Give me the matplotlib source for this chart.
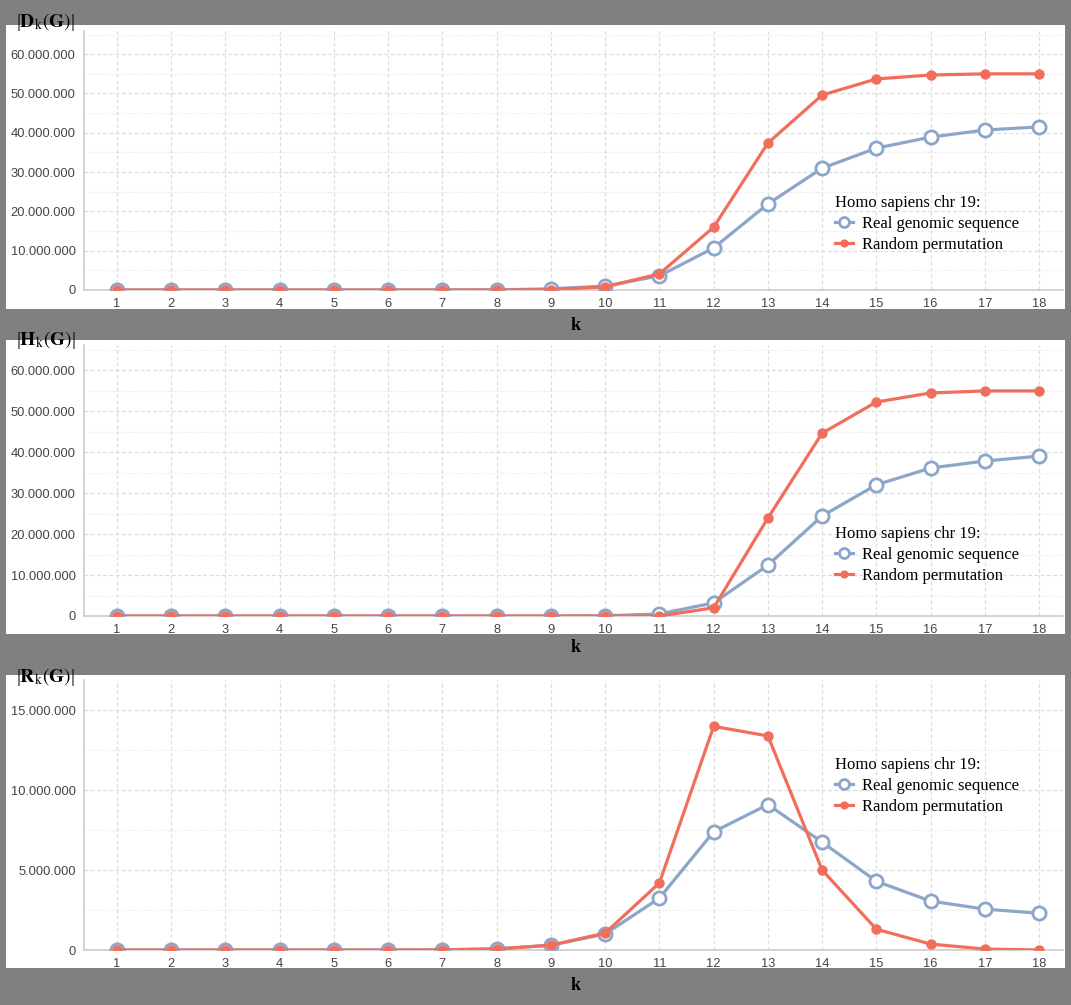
import numpy as np
import matplotlib.pyplot as plt
from matplotlib.patches import Rectangle
from matplotlib.ticker import FuncFormatter, MultipleLocator

# values (millions)
k = list(range(1, 19))

d_real = [0, 0, 0, 0, 0, 0, 0, 0.02, 0.3, 1.0, 3.6, 10.7, 21.9, 31.0, 36.1, 38.9, 40.7, 41.5]
d_rand = [0, 0, 0, 0, 0, 0, 0, 0.01, 0.1, 0.8, 4.1, 16.0, 37.4, 49.6, 53.7, 54.7, 55.0, 55.0]

h_real = [0, 0, 0, 0, 0, 0, 0, 0, 0, 0.05, 0.5, 3.2, 12.4, 24.4, 32.0, 36.1, 37.8, 39.0]
h_rand = [0, 0, 0, 0, 0, 0, 0, 0, 0, 0, 0, 2.0, 23.9, 44.6, 52.2, 54.4, 54.9, 54.9]

r_real = [0, 0, 0, 0, 0, 0, 0.01, 0.08, 0.3, 1.0, 3.25, 7.4, 9.1, 6.75, 4.3, 3.06, 2.56, 2.3]
r_rand = [0, 0, 0, 0, 0, 0, 0.01, 0.06, 0.3, 1.06, 4.2, 14.0, 13.4, 5.0, 1.3, 0.37, 0.06, 0.0]

panels = [
    ('D', d_real, d_rand, 10, 5, 65.9),
    ('H', h_real, h_rand, 10, 5, 66.1),
    ('R', r_real, r_rand, 5, 2.5, 16.9),
]

# pixel layout (top, bottom-of-axes, panel top, panel bottom, legend y, title y, k label y)
layout = [
    dict(ax_top=31, ax_bot=290, p_top=25, p_bot=309, leg_y=195, title_y=22, xl_y=325),
    dict(ax_top=345, ax_bot=616, p_top=340, p_bot=634, leg_y=526, title_y=340, xl_y=648),
    dict(ax_top=680, ax_bot=950, p_top=675, p_bot=968, leg_y=757, title_y=677, xl_y=985),
]

W, H = 1071, 1005
blue = '#8ba6c9'
red = '#f06e5b'

plt.rcParams['font.family'] = ['Liberation Sans', 'DejaVu Sans']
plt.rcParams['mathtext.fontset'] = 'stix'

fig = plt.figure(figsize=(W / 100, H / 100), dpi=100, facecolor='#808080')

def fmt(v, pos):
    n = int(round(v * 1e6))
    return f'{n:,}'.replace(',', '.')

for (letter, real, rand, major, minor, ymax), lay in zip(panels, layout):
    # white panel behind each chart
    fig.patches.append(Rectangle((6 / W, 1 - lay['p_bot'] / H), 1059 / W,
                                 (lay['p_bot'] - lay['p_top']) / H,
                                 transform=fig.transFigure, facecolor='white',
                                 edgecolor='none', zorder=-5))
    left, right = 84, 1063
    ax = fig.add_axes([left / W, 1 - lay['ax_bot'] / H, (right - left) / W,
                       (lay['ax_bot'] - lay['ax_top']) / H])
    ax.set_facecolor('white')
    ax.set_xlim(0.392, 18.44)
    ax.set_ylim(0, ymax)

    ax.plot(k, real, color=blue, lw=2.3, marker='o', ms=9.5, mfc='white',
            mec=blue, mew=2, label='Real genomic sequence', zorder=3)
    ax.plot(k, rand, color=red, lw=2.3, marker='o', ms=6.5, mfc=red,
            mec=red, label='Random permutation', zorder=4)

    ax.set_xticks(k)
    ax.yaxis.set_major_locator(MultipleLocator(major))
    ax.yaxis.set_minor_locator(MultipleLocator(minor))
    ax.yaxis.set_major_formatter(FuncFormatter(fmt))
    ax.tick_params(axis='both', length=0, labelsize=9.3, colors='#444444', pad=6)
    ax.tick_params(axis='y', which='minor', length=0)
    ax.grid(True, which='major', color='#dddddd', ls=(0, (3, 2)), lw=0.9)
    ax.grid(True, which='minor', axis='y', color='#e6e6e6', ls=(0, (1, 1.5)), lw=0.9)
    ax.set_axisbelow(True)
    for s in ['top', 'right']:
        ax.spines[s].set_visible(False)
    for s in ['left', 'bottom']:
        ax.spines[s].set_color('#cccccc')
        ax.spines[s].set_linewidth(1.2)

    leg = ax.legend(title='Homo sapiens chr 19:', loc='upper left',
                    bbox_to_anchor=((835 - left) / (right - left),
                                    (lay['ax_bot'] - lay['leg_y']) / (lay['ax_bot'] - lay['ax_top'])),
                    frameon=False, prop={'family': 'Liberation Serif', 'size': 12},
                    handlelength=1.1, handletextpad=0.55, labelspacing=0.3,
                    borderpad=0, borderaxespad=0, markerscale=0.75)
    leg.get_title().set_fontfamily('Liberation Serif')
    leg.get_title().set_fontsize(12)
    leg._legend_box.align = 'left'

    fig.text(16 / W, 1 - lay['title_y'] / H,
             r'|$\mathbf{%s}_{\mathrm{k}}(\mathbf{G})$|' % letter,
             fontsize=14, va='center', ha='left', color='black',
             family='Liberation Serif')
    fig.text(576 / W, 1 - lay['xl_y'] / H, 'k', fontsize=13, fontweight='bold',
             family='Liberation Serif', ha='center', va='center')

fig.savefig('out.png', dpi=100, facecolor=fig.get_facecolor())
